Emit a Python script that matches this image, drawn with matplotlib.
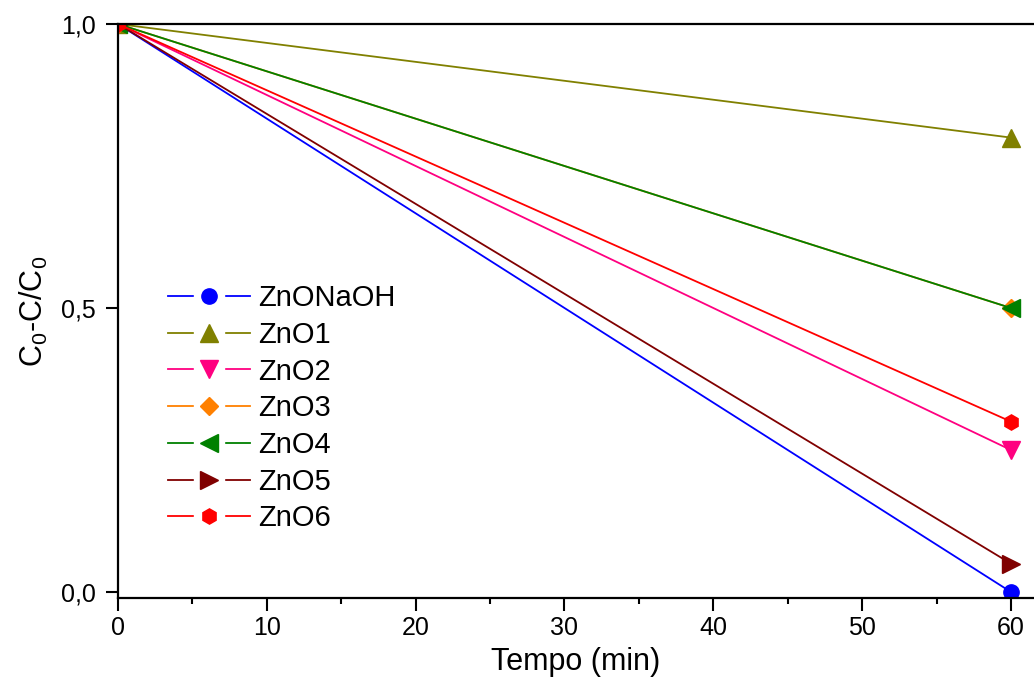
import matplotlib
matplotlib.use("Agg")
import matplotlib.pyplot as plt
from matplotlib.lines import Line2D
from matplotlib.legend_handler import HandlerTuple
from matplotlib.ticker import MultipleLocator, FuncFormatter

# time points (min)
TEMPO = [0, 60]
# C0-C/C0 for each sample
SERIES = ["ZnONaOH", "ZnO1", "ZnO2", "ZnO3", "ZnO4", "ZnO5", "ZnO6"]
ZNONAOH = [1.0, 0.0]
ZNO1 = [1.0, 0.80]
ZNO2 = [1.0, 0.25]
ZNO3 = [1.0, 0.50]
ZNO4 = [1.0, 0.50]
ZNO5 = [1.0, 0.05]
ZNO6 = [1.0, 0.30]
VALUES = [ZNONAOH, ZNO1, ZNO2, ZNO3, ZNO4, ZNO5, ZNO6]

COLORS = ["#0000ff", "#808000", "#ff0080", "#ff8000", "#008000", "#800000", "#ff0000"]
MARKERS = ["o", "^", "v", "D", "<", ">", "h"]
MSIZE = [11, 13, 13, 9, 13, 13, 11]

plt.rcParams.update({
    "font.family": ["Liberation Sans", "DejaVu Sans"],
    "mathtext.fontset": "custom",
    "mathtext.rm": "Liberation Sans",
    "mathtext.it": "Liberation Sans",
})

fig = plt.figure(figsize=(10.34, 6.86), dpi=100)
ax = fig.add_axes([118 / 1034, 1 - 598 / 686, 1 - 118 / 1034, (598 - 24) / 686])

handles = []
for name, vals, c, m, ms in zip(SERIES, VALUES, COLORS, MARKERS, MSIZE):
    ax.plot(TEMPO, vals, color=c, lw=1.3, marker=m, ms=ms, mec=c, mfc=c)
    # Origin-style legend entry: line with a gap around the marker
    ln = Line2D([], [], color=c, lw=1.3)
    bg = Line2D([], [], ls="none", marker="s", ms=21, mfc="white", mec="white")
    mk = Line2D([], [], ls="none", marker=m, ms=ms, mfc=c, mec=c)
    handles.append((ln, bg, mk))

ax.set_xlim(0, 61.55)
ax.set_ylim(-0.0106, 1.0)
ax.xaxis.set_major_locator(MultipleLocator(10))
ax.xaxis.set_minor_locator(MultipleLocator(5))
ax.yaxis.set_major_locator(MultipleLocator(0.5))
ax.yaxis.set_major_formatter(FuncFormatter(lambda v, p: f"{v:.1f}".replace(".", ",")))

ax.tick_params(axis="both", which="major", direction="out", length=9, width=1.5,
               labelsize=18, color="black")
ax.tick_params(axis="x", which="major", pad=4)
ax.tick_params(axis="y", which="major", pad=7)
ax.tick_params(axis="x", which="minor", direction="out", length=4, width=1.5)
for s in ("left", "bottom", "top"):
    ax.spines[s].set_linewidth(1.6)
ax.spines["right"].set_visible(False)

ax.set_xlabel("Tempo (min)", fontsize=22, labelpad=5)
ax.set_ylabel(r"C$_0$-C/C$_0$", fontsize=22, labelpad=8)

leg = ax.legend(handles, SERIES, handler_map={tuple: HandlerTuple(ndivide=1, pad=0)},
                loc="upper left", bbox_to_anchor=(168 / 1034, 1 - 284 / 686),
                bbox_transform=fig.transFigure, frameon=False, fontsize=21,
                handlelength=2.8, handletextpad=0.3, labelspacing=0.30,
                borderpad=0, borderaxespad=0)

fig.savefig("out.png", dpi=100)
